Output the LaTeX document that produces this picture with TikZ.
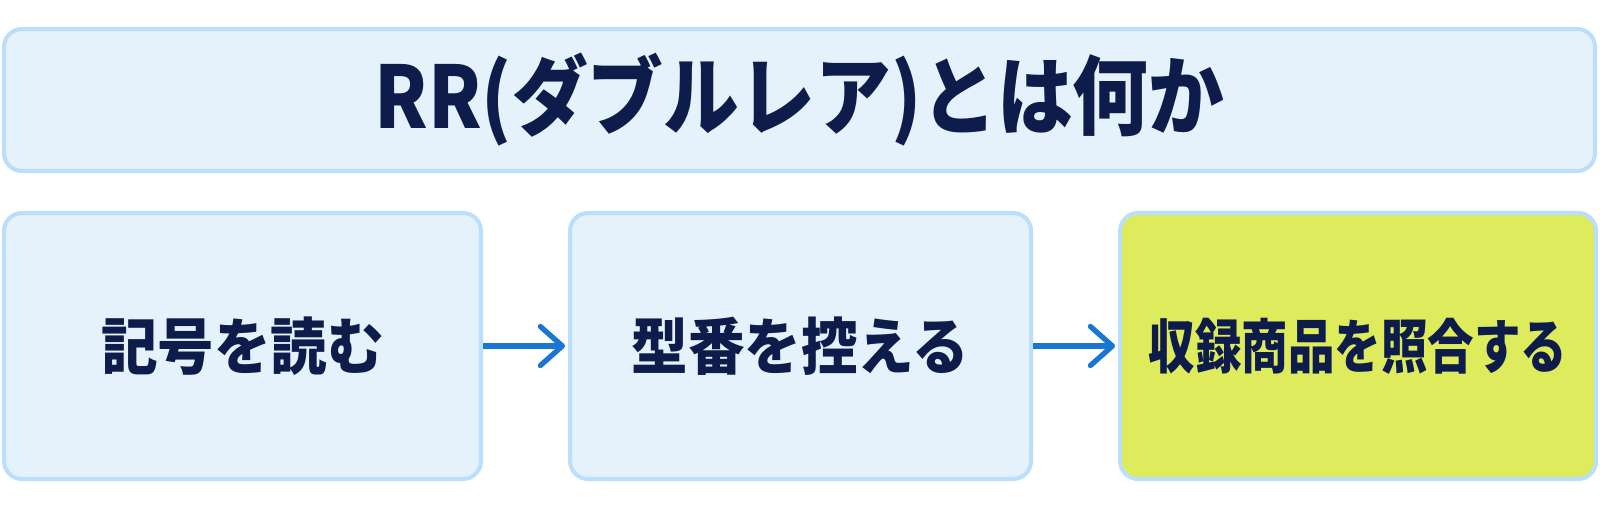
\documentclass[tikz,border=0pt]{standalone}
\usepackage{fontspec}
\setmainfont{Noto Sans CJK JP}
\newfontfamily\titlefont{Noto Sans CJK JP}[FakeStretch=0.88]
\newfontfamily\stepfont{Noto Sans CJK JP}[FakeStretch=0.92]
\newfontfamily\narrowfont{Noto Sans CJK JP}[FakeStretch=0.79]
\usepackage{xcolor}
\usetikzlibrary{positioning,arrows.meta}

\definecolor{boxfill}{HTML}{E5F2FC}
\definecolor{boxline}{HTML}{BBDEFB}
\definecolor{hilite}{HTML}{DDEB5C}
\definecolor{navy}{HTML}{0D1C4A}
\definecolor{flowblue}{HTML}{1976D2}

\tikzset{
    stepbox/.style={draw=boxline, line width=2.3pt, fill=boxfill, rounded corners=0.36cm,
        minimum height=5.32cm, inner xsep=0.1cm, text=navy,
        font=\stepfont\fontsize{35}{40}\selectfont\bfseries},
    flow/.style={draw=flowblue, line width=3pt, shorten >=0.06cm,
        -{Straight Barb[round, length=0.44cm, width=0.78cm]}}
}

\begin{document}
\begin{tikzpicture}
    \useasboundingbox (0,0) rectangle (32,10.18);

    \node[stepbox, minimum width=31.82cm, minimum height=2.84cm,
        font=\titlefont\fontsize{49}{56}\selectfont\bfseries] (title) at (15.99,8.18) {RR(ダブルレア)とは何か};

    \node[stepbox, minimum width=9.54cm] (read) at (4.85,3.26) {記号を読む};
    \node[stepbox, minimum width=9.22cm, right=1.7cm of read] (note) {型番を控える};
    \node[stepbox, minimum width=9.52cm, fill=hilite, right=1.7cm of note,
        font=\narrowfont\fontsize{33.5}{38}\selectfont\bfseries] (match) {収録商品を照合する};

    \draw[flow] (read) -- (note);
    \draw[flow] (note) -- (match);
\end{tikzpicture}
\end{document}
